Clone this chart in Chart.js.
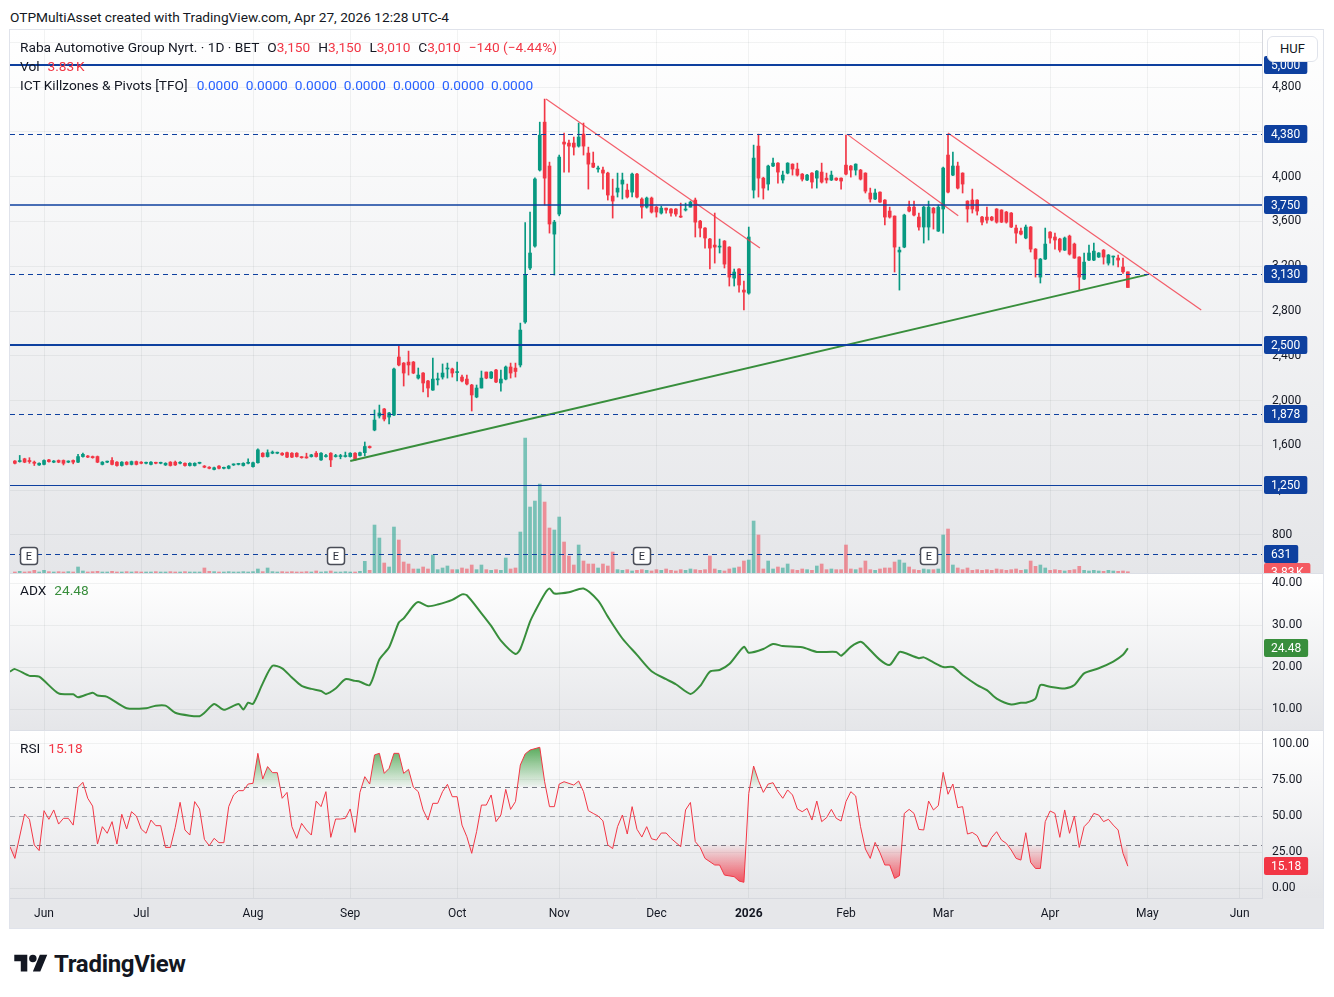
<!DOCTYPE html>
<html>
<head>
<meta charset="utf-8">
<title>Raba Automotive Group Nyrt. - 1D - BET</title>
<script src="https://cdn.jsdelivr.net/npm/chart.js@4.4.1/dist/chart.umd.min.js"></script>
<style>
  body { margin: 0; width: 1334px; height: 997px; background: #fff; position: relative; overflow: hidden;
         font-family: Roboto, "Noto Sans", sans-serif; color: #131722; }
  #titulo { position: absolute; left: 10px; top: 8px; font-size: 13.7px; line-height: 18px; }
  .pane { position: absolute; left: 10px; width: 1313px; background: linear-gradient(#ffffff, #e5e6e9); }
  .pane canvas { display: block; }
  #p-preco { top: 30px; height: 543px; }
  #p-adx { top: 573px; height: 157px; }
  #p-rsi { top: 730px; height: 198px; background: linear-gradient(#ffffff 0px, #e5e6e9 168px, #e6e7ea 168px, #e6e7ea 198px); }
  .sep { position: absolute; left: 10px; width: 1313px; height: 1px; background: #dcdfe6; }
  #moldura { position: absolute; left: 9px; top: 29px; width: 1315px; height: 900px; box-sizing: border-box;
             border: 1px solid #e0e3eb; pointer-events: none; }
  .leg { position: absolute; left: 20px; font-size: 13.7px; line-height: 18px; white-space: nowrap; }
  .leg span { margin-left: 8px; }
  .leg span.v { margin-left: 7px; }
  .leg span.v:first-child { margin-left: 9px; }
  .r { color: #F23645; }
  .g { color: #388E3C; }
  .b { color: #2962FF; }
  #huf { position: absolute; left: 1267px; top: 36px; width: 51px; height: 26px; box-sizing: border-box;
         border: 1px solid #e0e3eb; border-radius: 6px; background: #fff; font-size: 13px; line-height: 24px; text-align: center; }
  #logo { position: absolute; left: 14px; top: 950px; display: flex; align-items: center; gap: 6px; }
  #logo span { font-size: 24px; font-weight: 700; letter-spacing: -0.3px; }
</style>
</head>
<body>
<div id="titulo">OTPMultiAsset created with TradingView.com, Apr 27, 2026 12:28 UTC-4</div>

<div class="pane" id="p-preco"><canvas id="grafico-preco" width="1313" height="543"></canvas></div>
<div class="pane" id="p-adx"><canvas id="grafico-adx" width="1313" height="157"></canvas></div>
<div class="pane" id="p-rsi"><canvas id="grafico-rsi" width="1313" height="198"></canvas></div>
<div class="sep" style="top:573px"></div>
<div class="sep" style="top:730px"></div>
<div id="moldura"></div>

<div class="leg" id="leg-ohlc" style="top:38px"></div>
<div class="leg" id="leg-vol" style="top:57px"></div>
<div class="leg" id="leg-ict" style="top:76px"></div>
<div class="leg" id="leg-adx" style="top:581px"></div>
<div class="leg" id="leg-rsi" style="top:739px"></div>
<div id="huf">HUF</div>

<div id="logo">
  <svg width="34" height="26" viewBox="0 0 36 28"><path d="M14 22H7V11H0V4h14v18zM28 22h-8l7.5-18h8L28 22z" fill="#131722"/><circle cx="20" cy="8" r="4" fill="#131722"/></svg>
  <span>TradingView</span>
</div>

<script>
// daily candles, index 0 = first visible bar (late May 2025), last = Apr 27 2026
const opens = [
  1460,1455,1480,1465,1450,1425,1430,1470,1450,1465, 1465,1450,1465,1450,1500,1505,1500,1500,1430,1450,
  1465,1450,1420,1450,1430,1455,1450,1440,1430,1445, 1440,1425,1450,1450,1440,1440,1420,1420,1440,1415,
  1405,1385,1415,1395,1395,1425,1430,1420,1440,1410, 1445,1530,1500,1530,1530,1530,1535,1530,1530,1495,
  1495,1500,1530,1470,1500,1530,1500,1500,1500,1500, 1530,1510,1535,1590,1737,1862,1925,1853,1871,2389,
  2335,2344,2344,2201,2246,2175,2094,2185,2210,2282, 2282,2250,2210,2192,2139,2032,2112,2255,2201,2273,
  2157,2192,2300,2290,2318,2702,3184,3380,4059,4487, 4095,3487,3666,4309,4300,4300,4273,4380,4211,4121,
  4068,4059,4032,3827,3862,3934,3880,3862,4023,3800, 3728,3809,3728,3675,3719,3711,3711,3648,3702,3728,
  3791,3603,3541,3443,3389,3371,3425,3371,3094,3175, 2987,2960,3880,4273,3987,3934,4095,4121,3970,4032,
  4112,4068,4023,3970,4032,3987,4041,3987,3970,3987, 3987,4103,4095,4059,4059,4032,3854,3800,3862,3791,
  3693,3648,3327,3371,3728,3728,3639,3550,3550,3719, 3514,3711,4193,4014,4095,4032,3782,3791,3791,3639,
  3639,3639,3711,3702,3684,3675,3541,3514,3452,3550, 3353,3103,3264,3505,3461,3443,3344,3469,3398,3282,
  3085,3255,3255,3282,3344,3228,3282,3273,3193,3150
];
const highs = [
  1465,1510,1485,1490,1460,1445,1470,1475,1465,1470, 1470,1462,1470,1520,1530,1510,1505,1505,1455,1460,
  1490,1455,1455,1455,1460,1460,1455,1450,1455,1450, 1450,1445,1455,1460,1455,1445,1445,1445,1450,1420,
  1410,1405,1420,1405,1420,1435,1440,1445,1480,1450, 1570,1535,1560,1550,1540,1535,1540,1535,1535,1500,
  1530,1520,1545,1535,1520,1535,1520,1520,1540,1535, 1535,1540,1630,1595,1916,1960,1930,1895,2290,2496,
  2340,2442,2350,2291,2250,2180,2380,2246,2327,2335, 2290,2344,2228,2228,2145,2139,2264,2255,2260,2280,
  2273,2309,2335,2335,2692,3590,3684,3990,4487,4693, 4130,3610,4193,4389,4327,4354,4479,4479,4264,4220,
  4095,4086,4040,3978,4032,4032,3934,4032,4030,3810, 3818,3818,3735,3737,3720,3715,3715,3764,3764,3782,
  3809,3610,3545,3450,3675,3443,3430,3375,3175,3180, 3068,3550,4282,4380,3995,4103,4166,4125,4050,4125,
  4115,4121,4028,4020,4036,4055,4121,4032,4050,3990, 3990,4371,4100,4115,4065,4035,3898,3889,3865,3795,
  3728,3650,3371,3665,3782,3782,3675,3735,3782,3725, 3746,4085,4380,4220,4130,4035,3785,3889,3795,3645,
  3728,3645,3715,3705,3690,3680,3568,3541,3568,3555, 3358,3270,3541,3510,3496,3450,3461,3478,3407,3285,
  3318,3389,3407,3322,3350,3305,3291,3300,3273,3150
];
const lows = [
  1435,1450,1445,1440,1420,1420,1425,1450,1445,1445, 1425,1445,1435,1445,1495,1490,1485,1445,1425,1445,
  1425,1415,1415,1425,1425,1425,1435,1435,1425,1435, 1435,1420,1415,1420,1435,1415,1415,1415,1435,1400,
  1390,1380,1390,1390,1390,1420,1425,1415,1435,1405, 1440,1495,1495,1525,1525,1510,1490,1490,1495,1485,
  1485,1495,1495,1465,1495,1410,1495,1480,1495,1495, 1465,1505,1505,1575,1730,1844,1818,1791,1865,2310,
  2130,2228,2240,2192,2077,2032,2090,2139,2192,2201, 2210,2175,2166,2140,1907,2025,2112,2195,2195,2160,
  2085,2185,2201,2210,2300,2690,3170,3370,4050,3746, 3496,3121,3650,4041,4041,4193,4264,4193,3889,4080,
  4041,3889,3791,3630,3818,3800,3809,3818,3810,3630, 3719,3675,3639,3666,3675,3648,3648,3635,3693,3728,
  3461,3461,3362,3175,3228,3318,3184,3023,3023,2969, 2809,2950,3809,3818,3800,3880,4090,3943,3943,4025,
  4014,4005,3961,3965,3898,3898,3943,3943,3965,3965, 3889,4015,3996,4014,3970,3854,3773,3795,3770,3568,
  3630,3148,2987,3365,3684,3650,3523,3407,3434,3532, 3510,3496,3855,4010,3890,3854,3594,3675,3657,3568,
  3585,3605,3585,3590,3585,3545,3407,3480,3445,3327, 3103,3050,3260,3407,3353,3327,3340,3300,3270,2987,
  3080,3250,3250,3278,3219,3210,3210,3193,3135,3010
];
const closes = [
  1440,1460,1450,1455,1440,1440,1465,1455,1460,1450, 1440,1460,1450,1500,1520,1495,1490,1450,1450,1455,
  1430,1420,1450,1430,1455,1430,1440,1445,1450,1440, 1445,1440,1420,1425,1445,1420,1440,1440,1445,1405,
  1395,1400,1395,1400,1415,1430,1435,1440,1445,1445, 1560,1500,1535,1540,1535,1515,1495,1495,1500,1490,
  1488,1515,1500,1530,1505,1470,1505,1505,1505,1530, 1470,1535,1590,1580,1826,1889,1835,1889,2282,2318,
  2246,2318,2246,2228,2157,2112,2192,2195,2246,2290, 2246,2256,2175,2148,2050,2112,2201,2201,2255,2166,
  2192,2300,2246,2260,2630,3121,3318,3979,4371,3987, 3577,3594,4175,4291,4273,4264,4354,4273,4112,4085,
  4077,4032,3836,3782,3898,3970,3818,4023,3818,3728, 3809,3684,3684,3719,3702,3675,3666,3639,3711,3773,
  3594,3541,3452,3362,3371,3380,3219,3103,3148,3032, 2969,3461,4166,3987,3898,4095,4121,4041,4014,4121,
  4068,4014,3978,4014,3952,4050,3952,3970,4014,3970, 3961,4023,4059,4112,3978,3871,3800,3854,3773,3639,
  3639,3371,3344,3657,3693,3657,3550,3728,3728,3675, 3728,4077,3862,4095,3898,3934,3711,3711,3693,3594,
  3612,3612,3594,3594,3594,3550,3496,3487,3550,3353, 3264,3264,3398,3452,3434,3344,3452,3309,3273,3103,
  3237,3318,3335,3318,3282,3300,3290,3255,3150,3010
];
// volume in thousands of shares
const volumes = [
  3,5,3,4,8,3,8,4,3,4, 3,4,3,18,6,3,4,5,3,3,
  5,3,3,4,3,4,3,3,3,4, 3,3,4,3,3,4,3,3,3,15,
  5,4,3,3,4,3,3,4,3,4, 12,4,15,4,3,4,3,4,3,3,
  4,3,6,3,4,6,3,3,4,3, 3,5,35,8,144,105,30,18,138,99,
  33,27,12,12,18,12,54,10,15,21, 10,10,15,12,24,10,24,10,8,10,
  8,45,12,15,123,405,198,216,267,213, 135,129,168,93,51,24,84,36,27,27,
  15,27,21,63,10,8,10,6,8,10, 8,6,10,8,12,8,6,10,8,12,
  10,8,10,51,12,8,6,12,15,18, 36,39,156,114,12,36,12,18,15,27,
  10,8,12,10,8,21,27,10,12,10, 10,84,12,10,15,36,10,8,12,15,
  15,33,39,30,18,10,8,12,10,10, 12,114,132,24,15,10,15,8,10,8,
  10,8,12,10,8,10,12,8,10,36, 20,24,15,8,10,8,6,8,10,20,
  8,6,8,6,5,8,6,5,6,3.83
];

// ADX(14): bar index -> value
const adxIdx = [-1,0,3,5,9,12,13,16,17,19, 23,27,29,31,33,36,38,39,41,43, 46,47,48,49,51,53,55,57,59,61,
  63,64,66,68,70,71,73,75,77,79, 80,82,83,85,87,90,92,93,96,98, 100,103,104,106,107,109,110,111,114,117,
  120,122,125,128,131,134,136,139,141,143, 145,147,150,151,154,156,158,162,165,169,
  170,172,174,175,178,180,182,183,186,187, 189,191,193,195,198,200,202,205,207,208,
  210,211,213,216,218,220,223,226,228,229];
const adxVal = [18.9,19.5,17.9,17.7,13.7,13.5,12.8,13.9,13.2,12.9, 10.2,10.2,10.8,10.8,9.1,8.4,8.3,9.1,11.2,9.8,
  11.2,9.9,11.5,11.2,16.1,20.3,19.7,17.5,15.5,14.8, 14.3,13.6,14.9,17.1,16.7,16.5,15.7,21.8,24.7,30.6,
  31.6,34.6,35.5,34.5,34.9,36,37.3,37.1,32.8,29.8, 26.3,23.1,24.3,30.8,33.2,37.4,38.7,37.5,37.8,38.7,
  35.8,32,26.8,22.9,19,17.1,15.9,13.6,15.5,18.9, 19.3,20.7,24.8,23.4,24.3,25.5,25,24.7,23.6,23.6,
  22.7,24.8,26,25.2,21.7,20.5,23.6,23.4,22.1,22.3, 21.1,20,20,18.1,15.7,14.5,12.5,11.1,11.5,11.5,
  12.5,15.7,15.3,14.9,15.7,18.5,19.7,21.3,22.9,24.48];

// RSI(14): bar index -> value
const rsiIdx = [-1,0,2,3,4,5,6,7,8,9, 10,11,12,13,14,15,16,17,18,19, 20,21,22,23,24,25,26,27,28,29,
  30,31,32,33,34,35,36,37,38,39, 40,41,42,43,44,45,46,47,48,49, 50,51,52,53,54,55,56,57,58,59,
  60,61,62,63,64,65,66,67,68,69, 70,71,72,73,74,75,76,77,78,79, 80,81,82,83,84,85,86,87,88,89,
  90,91,92,93,94,95,96,97,98,99, 100,101,102,103,104,105,106,108,109,110, 111,112,113,115,116,117,118,119,120,121,
  122,123,124,125,126,127,128,129,130,131, 132,133,134,135,137,138,139,140,141,142, 144,145,146,148,149,150,151,152,153,154,
  155,156,157,158,159,160,161,162,163,164, 165,166,167,168,169,170,171,172,173,174, 175,176,177,178,179,180,181,182,183,184,
  185,186,187,188,189,190,191,192,193,194, 195,196,197,198,199,200,201,202,203,204, 205,206,207,208,209,210,211,212,213,214,
  215,216,217,218,219,220,221,222,223,224, 225,226,227,228,229];
const rsiVal = [28.7,20.6,51.4,47.7,29.9,26,53.7,47.7,54.2,44.4, 48.4,48.4,43.7,69.9,73.4,62.3,56.9,30.6,42.6,38,
  46.1,30.6,51.2,41,53,50,41,38,47.2,43.3, 43.3,28.2,28.2,42.1,59.5,40.3,36.8,60,54.9,33.8,
  29.4,34.5,31.5,31.5,56.5,64.6,67.6,67.6,72.2,72.7, 93.5,75.7,84.3,80.1,80.1,62.3,66.4,42.6,34.5,44.9,
  40.3,36.8,60.4,56.5,66.9,35.2,47.9,47.9,48.4,54.9, 38.6,66.4,77.3,72.2,92.4,93.5,79.6,83.1,93.5,93.5,
  79.6,82.4,69.9,66.9,54.2,47.2,58.8,58.8,66.9,72, 63.4,63.4,43.7,35.6,24.1,39.1,57.6,57.6,64.6,46.1,
  50.7,68.5,54.6,60,85.4,93.1,95.8,97.7,73.8,56.5, 56.5,72.2,73.8,71.5,74.3,66.9,53.7,51.8,50,46.6,
  29.9,27.4,42.6,50.7,37.5,56.5,40.8,35.4,42.6,34.2, 33.3,38.2,38.2,34.5,28.7,54.2,59.4,32.2,28.2,20.6,
  16,16,9,7.9,4.9,4,65.7,84.7,74.5,66.4, 72.2,73.1,66.9,62.3,68.1,64.6,54.9,53,55.3,47.2,
  60.4,46.1,48.8,54.6,48.4,46.5,60,66.9,63.9,42.6, 27.1,20.6,31.7,24.5,16,16,6.7,8.6,51.8,54.6,
  51.8,40.7,40.3,60.4,54.2,57.2,80.3,65.1,72.2,55.8, 56.5,37.5,38.6,36.3,29.2,28.7,35.2,39.1,33.3,31,
  26.4,20.6,19.4,38.4,17.8,13.6,13.6,46.1,53.5,51.8, 35.2,54.2,38,50,28.2,42.6,46.1,51.8,50.7,46.1,
  47.7,43.7,40.3,24.1,15.18];

// time axis
const monthTicks = [6, 26, 49, 69, 91, 112, 132, 151, 171, 191, 213, 233, 252];
const monthLabels = ['Jun','Jul','Aug','Sep','Oct','Nov','Dec','2026','Feb','Mar','Apr','May','Jun'];
const priceTicks = [800,1200,1600,2000,2400,2800,3200,3600,4000,4400,4800,5200];
const adxTicks = [10, 20, 30, 40];
const rsiTicks = [0, 25, 50, 75, 100];

// drawings on the price pane
const priceLevels = [5000, 4380, 3750, 3130, 2500, 1878, 1250, 631];
const earningsIdx = [3, 66, 129, 188];
const supportX = [69, 233];        const supportY = [1460, 3125];
const resist1X = [109.3, 153.3];   const resist1Y = [4693, 3362];
const resist2X = [171.2, 194.1];   const resist2Y = [4380, 3650];
const resist3X = [192, 244.1];     const resist3Y = [4390, 2809];
const rsiLevels = [70, 50, 30];

// ---------- styles ----------
const FONT = 'Roboto, "Noto Sans", sans-serif';
const UP = '#089981', DOWN = '#F23645';
const NAVY = '#0e409f';
const GRID = 'rgba(42,46,57,0.06)';
const levelStyle = [
  { w: 2, dash: [] }, { w: 1, dash: [5, 4] }, { w: 1.5, dash: [] }, { w: 1, dash: [5, 4] },
  { w: 2, dash: [] }, { w: 1, dash: [5, 4] }, { w: 1, dash: [] }, { w: 1, dash: [5, 4] }
];
const rsiLevelStyle = ['#787B86', 'rgba(120,123,134,0.55)', '#787B86'];

const idx = closes.map((_, i) => i);
const last = closes.length - 1;
const isUp = i => closes[i] >= opens[i];
const fmt = v => v.toLocaleString('en-US');
const pts = (xs, ys) => xs.map((x, k) => ({ x: x, y: ys[k] }));

// legend texts
const chg = closes[last] - closes[last - 1];
const pct = chg / closes[last - 1] * 100;
const sgn = v => (v < 0 ? '\u2212' : '+');
document.getElementById('leg-ohlc').innerHTML =
  'Raba Automotive Group Nyrt. \u00b7 1D \u00b7 BET' +
  '<span>O<b class="r" style="font-weight:normal">' + fmt(opens[last]) + '</b></span>' +
  '<span>H<b class="r" style="font-weight:normal">' + fmt(highs[last]) + '</b></span>' +
  '<span>L<b class="r" style="font-weight:normal">' + fmt(lows[last]) + '</b></span>' +
  '<span>C<b class="r" style="font-weight:normal">' + fmt(closes[last]) + '</b></span>' +
  '<span class="r">' + sgn(chg) + Math.abs(chg) + ' (' + sgn(pct) + Math.abs(pct).toFixed(2) + '%)</span>';
document.getElementById('leg-vol').innerHTML = 'Vol<span class="r">' + volumes[last].toFixed(2) + '\u202fK</span>';
document.getElementById('leg-ict').innerHTML = 'ICT Killzones &amp; Pivots [TFO]' +
  Array(7).fill('<span class="b v">0.0000</span>').join('');
document.getElementById('leg-adx').innerHTML = 'ADX<span class="g">' + adxVal[adxVal.length - 1].toFixed(2) + '</span>';
document.getElementById('leg-rsi').innerHTML = 'RSI<span class="r">' + rsiVal[rsiVal.length - 1].toFixed(2) + '</span>';

// ---------- helpers ----------
function xAxis(showLabels) {
  return {
    type: 'linear', min: -1, max: 256.6, offset: false,
    afterBuildTicks: ax => { ax.ticks = monthTicks.map(v => ({ value: v })); },
    afterFit: ax => { ax.height = showLabels ? 30 : 0; ax.paddingLeft = 0; ax.paddingRight = 0; },
    grid: { color: GRID, drawTicks: false, offset: false },
    border: { display: showLabels, color: '#d6d8de' },
    ticks: {
      display: showLabels, padding: 9, autoSkip: false, maxRotation: 0, color: '#131722',
      callback: v => monthLabels[monthTicks.indexOf(v)],
      font: c => ({ family: FONT, size: 12, weight: c.tick && c.tick.label === '2026' ? 'bold' : 'normal' })
    }
  };
}

function yAxis(min, max, ticks, format) {
  return {
    position: 'right', min: min, max: max,
    afterBuildTicks: ax => { ax.ticks = ticks.map(v => ({ value: v })); },
    afterFit: ax => { ax.width = 61; ax.paddingTop = 0; ax.paddingBottom = 0; },
    grid: { color: GRID, drawTicks: false },
    border: { display: true, color: '#d6d8de' },
    ticks: { padding: 10, color: '#131722', font: { family: FONT, size: 12 }, callback: format }
  };
}

function tag(chart, py, text, bg) {
  const ctx = chart.ctx, ax = chart.scales.y;
  ctx.save();
  ctx.font = '12px ' + FONT;
  const w = ctx.measureText(text).width + 14;
  ctx.fillStyle = bg;
  ctx.beginPath();
  ctx.roundRect(ax.left + 2, Math.round(py) - 9, w, 18, 2);
  ctx.fill();
  ctx.fillStyle = '#fff';
  ctx.textAlign = 'center';
  ctx.textBaseline = 'middle';
  ctx.fillText(text, ax.left + 2 + w / 2, Math.round(py) + 0.5);
  ctx.restore();
}

function vGradient(c, vFrom, vTo, colFrom, colTo) {
  const chart = c.chart, y = chart.scales.y;
  if (!chart.chartArea || !y) return 'transparent';
  const g = chart.ctx.createLinearGradient(0, y.getPixelForValue(vFrom), 0, y.getPixelForValue(vTo));
  g.addColorStop(0, colFrom);
  g.addColorStop(1, colTo);
  return g;
}

const baseOptions = {
  responsive: false, animation: false, events: [],
  layout: { padding: 0, autoPadding: false },
  plugins: { legend: { display: false }, tooltip: { enabled: false } }
};

// ---------- price pane ----------
const levelsPlugin = {
  id: 'levels',
  afterDatasetsDraw(chart) {
    const { ctx, chartArea: a, scales: { y } } = chart;
    ctx.save();
    ctx.strokeStyle = NAVY;
    priceLevels.forEach((v, k) => {
      const st = levelStyle[k];
      const py = Math.round(y.getPixelForValue(v)) + (st.w === 1 ? 0.5 : 0);
      ctx.lineWidth = st.w;
      ctx.setLineDash(st.dash);
      ctx.beginPath();
      ctx.moveTo(a.left, py);
      ctx.lineTo(a.right, py);
      ctx.stroke();
    });
    ctx.restore();
  },
  afterDraw(chart) {
    const y = chart.scales.y, yv = chart.scales.yVol;
    priceLevels.forEach(v => tag(chart, y.getPixelForValue(v), fmt(v), NAVY));
    tag(chart, yv.getPixelForValue(volumes[last]), volumes[last].toFixed(2) + '\u202fK', '#F45B62');
  }
};

const earningsPlugin = {
  id: 'earnings',
  afterDraw(chart) {
    const { ctx, chartArea: a, scales: { x } } = chart;
    ctx.save();
    earningsIdx.forEach(i => {
      const cx = Math.round(x.getPixelForValue(i)), cy = a.bottom - 17;
      ctx.fillStyle = '#fff';
      ctx.strokeStyle = '#4a4d57';
      ctx.lineWidth = 1.5;
      ctx.beginPath();
      ctx.roundRect(cx - 8.5, cy - 8.5, 17, 17, 3);
      ctx.fill();
      ctx.stroke();
      ctx.fillStyle = '#2a2e39';
      ctx.font = '11px ' + FONT;
      ctx.textAlign = 'center';
      ctx.textBaseline = 'middle';
      ctx.fillText('E', cx, cy + 1);
    });
    ctx.restore();
  }
};

new Chart(document.getElementById('grafico-preco'), {
  type: 'bar',
  data: {
    datasets: [
      { type: 'line', data: pts(supportX, supportY), borderColor: '#388E3C', borderWidth: 2, pointRadius: 0, order: 0 },
      { type: 'line', data: pts(resist1X, resist1Y), borderColor: 'rgba(242,54,69,0.8)', borderWidth: 1.2, pointRadius: 0, order: 0 },
      { type: 'line', data: pts(resist2X, resist2Y), borderColor: 'rgba(242,54,69,0.8)', borderWidth: 1.2, pointRadius: 0, order: 0 },
      { type: 'line', data: pts(resist3X, resist3Y), borderColor: 'rgba(242,54,69,0.8)', borderWidth: 1.2, pointRadius: 0, order: 0 },
      {
        label: 'body', data: idx.map(i => ({ x: i, y: [opens[i], closes[i]] })),
        backgroundColor: idx.map(i => isUp(i) ? UP : DOWN),
        barThickness: 3, minBarLength: 1, grouped: false, order: 1
      },
      {
        label: 'wick', data: idx.map(i => ({ x: i, y: [lows[i], highs[i]] })),
        backgroundColor: idx.map(i => isUp(i) ? UP : DOWN),
        barThickness: 1, grouped: false, order: 2
      },
      {
        label: 'volume', yAxisID: 'yVol', data: idx.map(i => ({ x: i, y: volumes[i] })),
        backgroundColor: idx.map(i => isUp(i) ? 'rgba(8,153,129,0.5)' : 'rgba(242,54,69,0.5)'),
        barThickness: 3, grouped: false, order: 3
      }
    ]
  },
  options: {
    ...baseOptions,
    scales: {
      x: xAxis(false),
      y: yAxis(460, 5310, priceTicks, v => fmt(v)),
      yVol: { display: false, min: 0, max: 1630 }
    }
  },
  plugins: [levelsPlugin, earningsPlugin]
});

// ---------- ADX pane ----------
new Chart(document.getElementById('grafico-adx'), {
  type: 'line',
  data: { datasets: [{ data: pts(adxIdx, adxVal), borderColor: '#388E3C', borderWidth: 2, pointRadius: 0, tension: 0.25 }] },
  options: {
    ...baseOptions,
    scales: { x: xAxis(false), y: yAxis(5, 42.4, adxTicks, v => v.toFixed(2)) }
  },
  plugins: [{
    id: 'adxTag',
    afterDraw(chart) {
      const v = adxVal[adxVal.length - 1];
      tag(chart, chart.scales.y.getPixelForValue(v), v.toFixed(2), '#388E3C');
    }
  }]
});

// ---------- RSI pane ----------
const rsiPts = pts(rsiIdx, rsiVal);
new Chart(document.getElementById('grafico-rsi'), {
  type: 'line',
  data: {
    datasets: [
      { data: rsiPts, borderColor: '#F23645', borderWidth: 1, pointRadius: 0, fill: false, order: 0 },
      {
        data: rsiPts, borderColor: 'transparent', pointRadius: 0, order: 1,
        backgroundColor: c => vGradient(c, 100, 70, 'rgba(67,160,71,0.95)', 'rgba(67,160,71,0.03)'),
        fill: { target: { value: 70 }, below: 'transparent' }
      },
      {
        data: rsiPts, borderColor: 'transparent', pointRadius: 0, order: 1,
        backgroundColor: c => vGradient(c, 0, 30, 'rgba(242,54,69,0.95)', 'rgba(242,54,69,0.03)'),
        fill: { target: { value: 30 }, above: 'transparent' }
      }
    ]
  },
  options: {
    ...baseOptions,
    scales: { x: xAxis(true), y: yAxis(-6.9, 109.7, rsiTicks, v => v.toFixed(2)) }
  },
  plugins: [{
    id: 'rsiBands',
    beforeDatasetsDraw(chart) {
      const { ctx, chartArea: a, scales: { y } } = chart;
      ctx.save();
      ctx.lineWidth = 1;
      ctx.setLineDash([5, 4]);
      rsiLevels.forEach((v, k) => {
        const py = Math.round(y.getPixelForValue(v)) + 0.5;
        ctx.strokeStyle = rsiLevelStyle[k];
        ctx.beginPath();
        ctx.moveTo(a.left, py);
        ctx.lineTo(a.right, py);
        ctx.stroke();
      });
      ctx.restore();
    },
    afterDraw(chart) {
      const v = rsiVal[rsiVal.length - 1];
      tag(chart, chart.scales.y.getPixelForValue(v), v.toFixed(2), '#F23645');
    }
  }]
});
</script>
</body>
</html>
